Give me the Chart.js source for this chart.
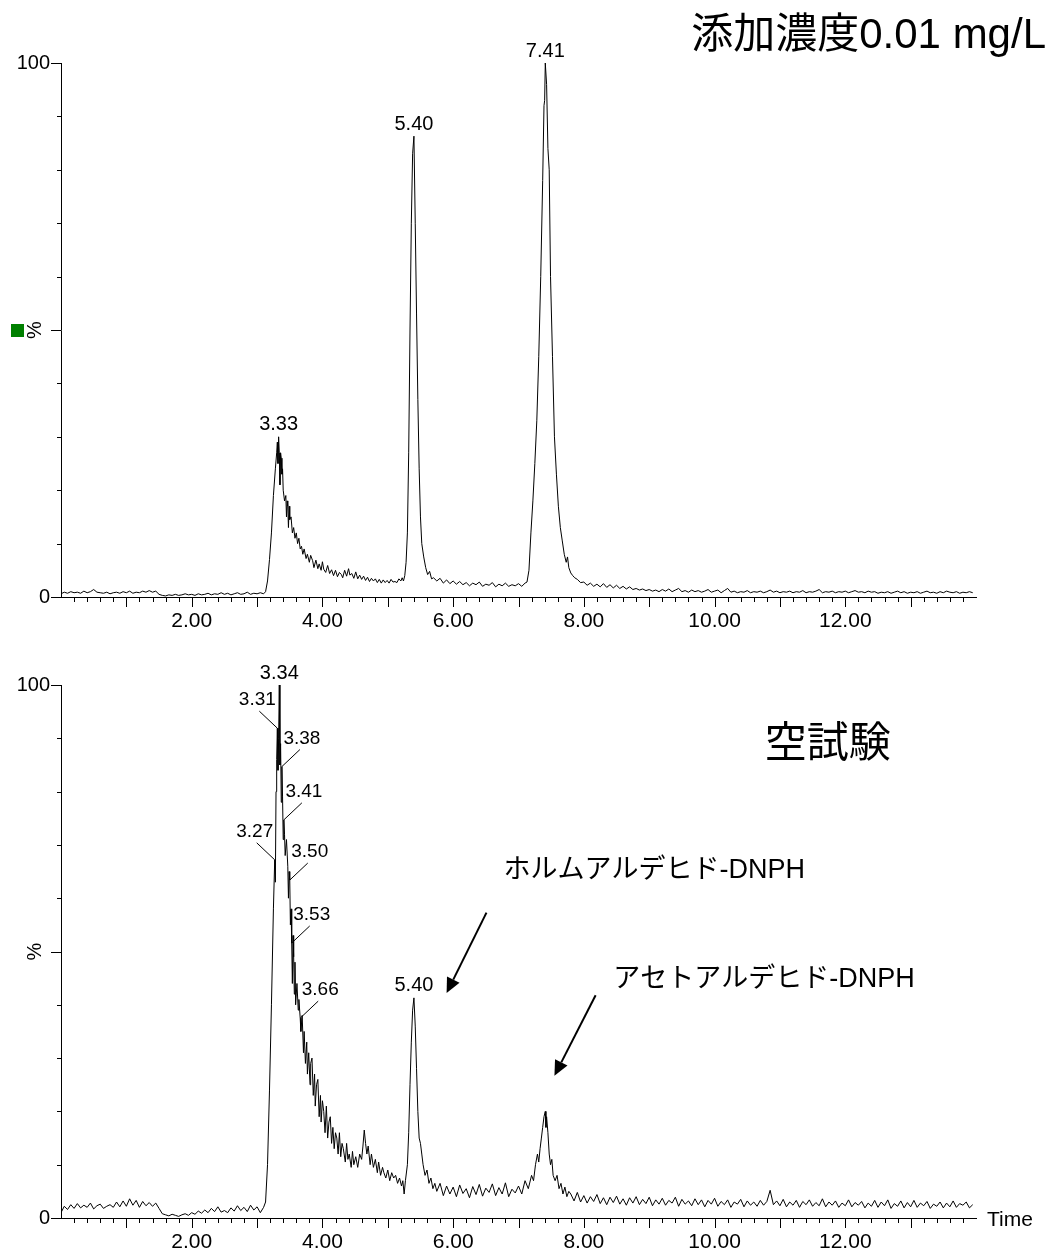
<!DOCTYPE html>
<html>
<head>
<meta charset="utf-8">
<script src="https://cdn.jsdelivr.net/npm/chart.js@4.4.1/dist/chart.umd.min.js"></script>
<style>
  body { margin: 0; background: #fff; width: 1052px; height: 1255px; position: relative; overflow: hidden; }
  canvas { position: absolute; left: 0; }
  #spiked { top: 0; }
  #blank { top: 640px; }
</style>
</head>
<body>
<canvas id="spiked" width="1052" height="640"></canvas>
<canvas id="blank" width="1052" height="615"></canvas>
<script>
// chromatogram traces, [time (min), intensity %]
const spikedTrace = [
  [0.00,0.6],[0.05,0.9],[0.10,0.7],[0.15,1.0],[0.20,0.8],[0.25,0.9],[0.30,0.7],[0.35,1.1],[0.40,0.8],[0.45,1.0],
  [0.50,1.4],[0.55,0.9],[0.60,0.8],[0.65,0.7],[0.70,0.9],[0.75,0.6],[0.80,0.8],[0.85,0.9],[0.90,0.7],[0.95,1.0],
  [1.00,0.8],[1.05,1.1],[1.10,0.7],[1.15,0.9],[1.20,0.8],[1.25,1.1],[1.30,0.9],[1.35,1.2],[1.40,0.9],[1.45,1.1],
  [1.50,0.5],[1.55,0.3],[1.60,0.2],[1.65,0.4],[1.70,0.3],[1.75,0.5],[1.80,0.3],[1.85,0.4],[1.90,0.6],[1.95,0.4],
  [2.00,0.5],[2.05,0.3],[2.10,0.6],[2.15,0.4],[2.20,0.5],[2.25,0.7],[2.30,0.4],[2.35,0.6],[2.40,0.5],[2.45,0.8],
  [2.50,0.5],[2.55,0.7],[2.60,0.4],[2.65,0.6],[2.70,0.8],[2.75,0.5],[2.80,0.6],[2.85,0.9],[2.90,0.5],[2.95,0.7],
  [3.00,0.6],[3.05,0.8],[3.10,0.6],
  [3.13,1.0],[3.16,3],[3.19,7],[3.22,12],[3.25,19],[3.28,24],[3.30,27],[3.31,29],[3.32,25],[3.33,30],[3.34,27],
  [3.35,21],[3.36,27],[3.37,26],[3.38,23],[3.39,24],[3.40,20],[3.42,18],[3.44,19],[3.45,15],[3.46,18],[3.47,17],
  [3.48,13],[3.49,17],[3.50,14.5],[3.52,15],[3.54,12],[3.56,13],[3.58,11],[3.60,12],[3.62,10],[3.64,11],[3.66,9],
  [3.68,9.5],[3.70,8],[3.72,9],[3.75,7.2],[3.77,8],[3.80,6.5],[3.82,7.8],[3.85,6.8],[3.87,5.5],[3.90,6.9],[3.93,5.3],
  [3.95,6.2],[3.98,5.0],[4.00,6.6],[4.02,5.2],[4.05,4.6],[4.08,5.9],[4.11,4.4],[4.14,5.1],[4.17,4.0],[4.20,5.0],
  [4.23,3.8],[4.26,4.6],[4.29,4.2],[4.31,3.6],[4.34,5.0],[4.37,3.9],[4.40,5.3],[4.42,4.1],[4.45,4.4],[4.48,3.5],
  [4.51,4.7],[4.54,3.4],[4.57,4.1],[4.60,3.3],[4.63,3.9],[4.66,3.1],[4.69,3.7],[4.72,2.9],[4.75,3.5],[4.78,3.0],
  [4.81,3.4],[4.84,2.7],[4.87,3.3],[4.90,2.6],[4.93,3.2],[4.96,2.7],[4.99,3.1],[5.02,2.6],[5.05,3.3],[5.08,2.8],
  [5.11,2.9],[5.14,2.7],[5.17,3.4],[5.20,3.0],[5.22,3.6],
  [5.24,3.0],[5.26,4],[5.28,6.5],[5.30,12],[5.32,27],[5.34,50],[5.36,70],[5.38,83],[5.40,86.3],[5.42,70],
  [5.44,53],[5.46,37],[5.48,24],[5.50,15],[5.52,10],[5.55,7.5],[5.58,5.5],[5.61,4.2],[5.64,4.8],[5.67,3.4],
  [5.70,3.6],[5.75,3.0],[5.80,3.5],[5.85,2.6],[5.90,3.2],[5.95,2.5],[6.00,3.0],[6.05,2.4],[6.10,2.9],[6.15,2.3],
  [6.20,2.7],[6.25,2.1],[6.30,2.6],[6.35,2.3],[6.40,2.8],[6.45,2.0],[6.50,2.4],[6.55,2.2],[6.60,2.7],[6.65,1.9],
  [6.70,2.4],[6.75,2.1],[6.80,2.6],[6.85,2.0],[6.90,2.3],[6.95,2.1],[7.00,2.5],[7.05,2.0],[7.10,2.6],
  [7.13,2.8],[7.16,5],[7.19,12],[7.22,18],[7.25,25],[7.28,33],[7.31,45],[7.34,60],[7.37,78],[7.39,92],
  [7.40,93],[7.41,100],[7.43,96],[7.45,84],[7.47,80],[7.49,60],[7.52,45],[7.55,30],[7.58,23],[7.61,17],
  [7.64,13],[7.67,10.5],[7.70,8],[7.73,6.5],[7.75,7.5],[7.77,5.5],[7.80,4.5],[7.83,4.0],[7.86,3.6],[7.90,3.3],
  [7.95,2.7],
  [8.00,2.8],[8.05,2.2],[8.10,2.6],[8.15,2.0],[8.20,2.4],[8.25,1.9],[8.30,2.5],[8.35,1.8],[8.40,2.3],[8.45,1.7],
  [8.50,2.2],[8.55,1.6],[8.60,2.0],[8.65,1.5],[8.70,1.9],[8.75,1.4],[8.80,1.6],[8.85,1.3],[8.90,1.5],[8.95,1.2],
  [9.00,1.4],[9.05,1.1],[9.10,1.3],[9.15,1.0],[9.20,1.4],[9.25,1.1],[9.30,1.5],[9.35,1.0],[9.40,1.3],[9.45,1.6],
  [9.50,1.0],[9.55,1.2],[9.60,0.9],[9.65,1.3],[9.70,1.0],[9.75,1.2],[9.80,0.9],[9.85,1.1],[9.90,1.4],[9.95,0.9],
  [10.00,1.1],[10.05,1.3],[10.10,0.8],[10.15,1.2],[10.20,1.6],[10.25,0.9],[10.30,1.1],[10.35,0.8],[10.40,1.0],[10.45,0.9],
  [10.50,1.2],[10.55,0.8],[10.60,1.0],[10.65,0.9],[10.70,1.1],[10.75,0.8],[10.80,1.0],[10.85,1.3],[10.90,0.9],[10.95,1.1],
  [11.00,0.8],[11.05,1.0],[11.10,0.9],[11.15,1.1],[11.20,0.8],[11.25,1.0],[11.30,0.9],[11.35,1.2],[11.40,0.8],[11.45,1.0],
  [11.50,0.9],[11.55,1.1],[11.60,1.4],[11.65,0.8],[11.70,1.0],[11.75,0.9],[11.80,1.1],[11.85,0.8],[11.90,1.0],[11.95,0.9],
  [12.00,1.1],[12.05,0.8],[12.10,1.0],[12.15,1.2],[12.20,0.9],[12.25,1.0],[12.30,0.8],[12.35,1.1],[12.40,0.9],[12.45,1.0],
  [12.50,0.7],[12.55,0.9],[12.60,0.8],[12.65,1.0],[12.70,0.7],[12.75,0.9],[12.80,1.1],[12.85,0.8],[12.90,1.0],[12.95,0.7],
  [13.00,0.9],[13.05,0.8],[13.10,1.0],[13.15,0.7],[13.20,0.9],[13.25,1.1],[13.30,0.8],[13.35,0.9],[13.40,0.7],[13.45,1.0],
  [13.50,0.8],[13.55,1.1],[13.60,0.9],[13.65,0.8],[13.70,1.0],[13.75,0.7],[13.80,0.9],[13.85,0.8],[13.90,1.0],[13.95,0.8]
];

const blankTrace = [
  [0.00,1.0],[0.05,2.2],[0.10,1.6],[0.15,2.5],[0.20,1.8],[0.25,2.7],[0.30,1.9],[0.35,2.4],[0.40,2.0],[0.45,2.8],
  [0.50,1.7],[0.55,2.3],[0.60,2.6],[0.65,1.8],[0.70,2.2],[0.75,2.5],[0.80,2.0],[0.85,3.0],[0.90,2.1],[0.95,3.2],
  [1.00,2.2],[1.05,3.6],[1.10,2.4],[1.15,3.3],[1.20,2.0],[1.25,3.1],[1.30,2.3],[1.35,2.9],[1.40,2.2],[1.45,2.8],
  [1.50,1.8],[1.55,0.8],[1.60,0.6],[1.65,0.4],[1.70,0.7],[1.75,0.5],[1.80,0.3],[1.85,0.6],[1.90,0.8],[1.95,0.5],
  [2.00,1.0],[2.05,0.7],[2.10,1.3],[2.15,0.9],[2.20,1.5],[2.25,1.0],[2.30,1.8],[2.35,1.2],[2.40,2.1],[2.45,1.1],
  [2.50,1.4],[2.55,1.0],[2.60,1.9],[2.65,1.3],[2.70,2.3],[2.75,1.4],[2.80,2.0],[2.85,1.2],[2.90,2.4],[2.95,1.5],
  [3.00,2.1],[3.05,1.0],[3.10,2.0],
  [3.13,3],[3.16,10],[3.19,24],[3.22,40],[3.25,58],[3.27,67.2],[3.28,63],[3.29,80],[3.30,86],[3.31,91.9],
  [3.32,84],[3.33,90],[3.34,100],[3.35,85],[3.36,89],[3.37,78],[3.38,84.7],[3.39,79],[3.40,71],[3.41,74.7],
  [3.42,72],[3.43,68],[3.45,71],[3.47,66],[3.48,60],[3.49,65],[3.50,63.4],[3.51,55],[3.52,58],[3.53,51.6],
  [3.54,44],[3.55,53],[3.56,49],[3.57,42],[3.58,48],[3.59,40],[3.61,44],[3.63,39],[3.64,41],[3.66,37.5],
  [3.67,35],[3.69,38],[3.71,31],[3.72,35],[3.74,29],[3.76,33],[3.77,27],[3.79,31],[3.81,25],[3.82,29],
  [3.84,30],[3.86,23],[3.88,27],[3.89,21],[3.91,25],[3.93,26],[3.95,19],[3.97,23],[3.98,18],[4.00,22],
  [4.02,20],[4.04,16],[4.06,21],[4.08,15],[4.10,18],[4.12,19],[4.14,14],[4.16,17],[4.18,13],[4.20,16],
  [4.22,15],[4.24,12],[4.26,16],[4.28,11.5],[4.30,14],[4.32,13],[4.35,10.5],[4.37,14],[4.39,11],[4.41,12],
  [4.44,9.5],[4.46,12.5],[4.48,10],[4.51,11.5],[4.54,9.5],[4.57,12],[4.60,11],[4.62,13.5],[4.64,16.5],[4.66,14],
  [4.68,12],[4.70,13.5],[4.73,10],[4.75,12],[4.78,9.5],[4.81,11],[4.84,8.5],[4.86,10.5],[4.89,8],[4.92,9.5],
  [4.94,8.5],[4.97,7.5],[5.00,9],[5.03,7],[5.06,8.5],[5.09,7.5],[5.12,8],[5.15,6.5],[5.18,7.5],[5.21,6],
  [5.23,7],[5.25,4.5],
  [5.27,7],[5.30,10],[5.32,16],[5.34,25],[5.36,33],[5.38,39],[5.40,41.3],[5.42,36],[5.44,28],[5.46,20],
  [5.48,15],[5.50,14],[5.52,12],[5.54,10],[5.57,8],[5.60,9],[5.63,6.5],[5.66,7.5],[5.69,5.5],[5.72,6.5],
  [5.75,5.0],[5.80,6.5],[5.85,4.2],[5.90,6.0],[5.95,4.5],[6.00,5.8],[6.05,4.0],[6.10,6.2],[6.15,4.6],[6.20,5.5],
  [6.25,3.8],[6.30,5.9],[6.35,4.4],[6.40,6.3],[6.45,4.1],[6.50,5.6],[6.55,4.8],[6.60,6.4],[6.65,4.2],[6.70,5.7],
  [6.75,4.5],[6.80,6.6],[6.85,4.0],[6.90,5.4],[6.95,4.7],[7.00,6.0],[7.05,4.5],[7.10,7.0],[7.15,5.5],[7.20,8.0],
  [7.23,7],[7.26,10],[7.29,12],[7.31,10.5],[7.33,13],[7.35,15],[7.37,17],[7.39,19],[7.41,20],[7.42,17],
  [7.43,19],[7.45,16],[7.47,12],[7.49,10],[7.51,11],[7.53,8],[7.56,7],[7.59,8],[7.62,5.5],[7.65,6.5],
  [7.68,4.5],[7.71,5.8],[7.74,4.0],[7.77,5.0],
  [7.80,4.5],[7.85,3.2],[7.90,4.8],[7.95,3.0],[8.00,4.2],[8.05,2.8],[8.10,4.0],[8.15,3.1],[8.20,4.4],[8.25,2.7],
  [8.30,3.8],[8.35,2.5],[8.40,3.9],[8.45,2.9],[8.50,4.1],[8.55,2.6],[8.60,3.6],[8.65,2.4],[8.70,3.8],[8.75,2.8],
  [8.80,4.0],[8.85,2.5],[8.90,3.5],[8.95,2.7],[9.00,3.9],[9.05,2.3],[9.10,3.4],[9.15,2.6],[9.20,3.7],[9.25,2.4],
  [9.30,3.3],[9.35,2.8],[9.40,3.9],[9.45,2.2],[9.50,3.5],[9.55,2.6],[9.60,3.2],[9.65,2.3],[9.70,3.6],[9.75,2.5],
  [9.80,3.4],[9.85,2.1],[9.90,3.3],[9.95,2.6],[10.00,3.7],[10.05,2.2],[10.10,3.1],[10.15,2.5],[10.20,3.4],[10.25,2.0],
  [10.30,3.0],[10.35,2.6],[10.40,3.5],[10.45,2.1],[10.50,3.2],[10.55,2.4],[10.60,3.0],[10.65,2.2],[10.70,3.3],[10.75,2.4],
  [10.80,3.1],[10.85,5.2],[10.90,2.5],[10.95,3.2],[11.00,2.3],[11.05,3.5],[11.10,2.1],[11.15,3.0],[11.20,2.4],[11.25,3.3],
  [11.30,2.0],[11.35,3.1],[11.40,2.5],[11.45,3.4],[11.50,2.2],[11.55,2.9],[11.60,2.3],[11.65,3.6],[11.70,2.1],[11.75,3.0],
  [11.80,2.4],[11.85,3.2],[11.90,2.0],[11.95,2.8],[12.00,2.3],[12.05,3.4],[12.10,2.1],[12.15,2.9],[12.20,2.4],[12.25,3.1],
  [12.30,1.9],[12.35,2.8],[12.40,2.2],[12.45,3.3],[12.50,2.0],[12.55,3.0],[12.60,2.3],[12.65,3.4],[12.70,1.8],[12.75,2.7],
  [12.80,2.2],[12.85,3.2],[12.90,1.9],[12.95,2.9],[13.00,2.1],[13.05,3.3],[13.10,2.0],[13.15,2.8],[13.20,2.3],[13.25,3.1],
  [13.30,1.8],[13.35,2.6],[13.40,2.2],[13.45,3.0],[13.50,1.9],[13.55,2.8],[13.60,2.1],[13.65,3.2],[13.70,2.0],[13.75,2.7],
  [13.80,2.4],[13.85,3.0],[13.90,1.9],[13.95,2.5]
];

// axis labels
const xLabelTimes = [2, 4, 6, 8, 10, 12];
const yLabelValues = [0, 100];

// peak labels: text, time, intensity
const spikedPeaks = [["3.33", 3.33, 30], ["5.40", 5.40, 86.3], ["7.41", 7.41, 100]];
const blankPeaks = [["3.34", 3.34, 100], ["5.40", 5.40, 41.3]];
// labels with leader lines: text, time, intensity, side (-1 left, 1 right)
const blankLeaders = [
  ["3.31", 3.31, 91.9, -1], ["3.38", 3.38, 84.7, 1], ["3.41", 3.41, 74.7, 1], ["3.27", 3.27, 67.2, -1],
  ["3.50", 3.50, 63.4, 1], ["3.53", 3.53, 51.6, 1], ["3.66", 3.66, 37.5, 1]
];
// arrows: [from time, from %, to time, to %]
const blankArrows = [[6.51, 57.3, 5.90, 42.2], [8.18, 41.8, 7.55, 26.7]];
const blankNotes = [["ホルムアルデヒド-DNPH", 6.77, 65.1], ["アセトアルデヒド-DNPH", 8.45, 44.8]];

const FONT = '"Liberation Sans", Arial, "Noto Sans CJK JP", sans-serif';

function drawAxisTicks(chart) {
  const { ctx, chartArea: a, scales: { x, y } } = chart;
  ctx.save();
  ctx.strokeStyle = "#000";
  ctx.lineWidth = 1;
  ctx.beginPath();
  for (let i = 1; i < 70; i++) {
    const px = Math.round(x.getPixelForValue(i / 5)) + 0.5;
    const len = i % 5 === 0 ? 10 : 5;
    ctx.moveTo(px, a.bottom);
    ctx.lineTo(px, a.bottom + len);
  }
  for (let i = 0; i <= 10; i++) {
    const py = Math.round(y.getPixelForValue(i * 10)) + 0.5;
    const len = i % 5 === 0 ? 10 : 4;
    ctx.moveTo(a.left, py);
    ctx.lineTo(a.left - len, py);
  }
  ctx.stroke();

  // "%" axis title
  ctx.fillStyle = "#000";
  ctx.font = "20px " + FONT;
  ctx.textAlign = "center";
  ctx.textBaseline = "middle";
  ctx.translate(35, y.getPixelForValue(50));
  ctx.rotate(-Math.PI / 2);
  ctx.fillText("%", 0, 0);
  ctx.restore();
}

function drawPeakLabels(chart, peaks) {
  const { ctx, scales: { x, y } } = chart;
  ctx.save();
  ctx.fillStyle = "#000";
  ctx.font = "20px " + FONT;
  ctx.textAlign = "center";
  ctx.textBaseline = "middle";
  peaks.forEach(([txt, t, v]) => {
    ctx.fillText(txt, x.getPixelForValue(t), y.getPixelForValue(v) - 12);
  });
  ctx.restore();
}

function drawArrow(ctx, x1, y1, x2, y2) {
  const ang = Math.atan2(y2 - y1, x2 - x1);
  const hl = 15, hw = 7;
  const bx = x2 - hl * Math.cos(ang), by = y2 - hl * Math.sin(ang);
  ctx.beginPath();
  ctx.moveTo(x1, y1);
  ctx.lineTo(bx, by);
  ctx.stroke();
  ctx.beginPath();
  ctx.moveTo(x2, y2);
  ctx.lineTo(bx + hw * Math.sin(ang), by - hw * Math.cos(ang));
  ctx.lineTo(bx - hw * Math.sin(ang), by + hw * Math.cos(ang));
  ctx.closePath();
  ctx.fill();
}

const spikedDecor = {
  id: "spikedDecor",
  afterDraw(chart) {
    const { ctx, scales: { y } } = chart;
    drawAxisTicks(chart);
    drawPeakLabels(chart, spikedPeaks);
    ctx.save();
    ctx.fillStyle = "#008000";
    ctx.fillRect(11, Math.round(y.getPixelForValue(50)) - 6, 13, 13);
    ctx.fillStyle = "#000";
    ctx.font = "42px " + FONT;
    ctx.textAlign = "right";
    ctx.textBaseline = "middle";
    ctx.fillText("添加濃度0.01 mg/L", chart.width - 6, 36);
    ctx.restore();
  }
};

const blankDecor = {
  id: "blankDecor",
  afterDraw(chart) {
    const { ctx, chartArea: a, scales: { x, y } } = chart;
    drawAxisTicks(chart);
    drawPeakLabels(chart, blankPeaks);
    ctx.save();
    ctx.strokeStyle = "#000";
    ctx.fillStyle = "#000";
    ctx.lineWidth = 1;
    ctx.font = "19px " + FONT;
    ctx.textAlign = "center";
    ctx.textBaseline = "middle";
    blankLeaders.forEach(([txt, t, v, side]) => {
      const px = x.getPixelForValue(t), py = y.getPixelForValue(v);
      ctx.beginPath();
      ctx.moveTo(px + side * 18, py - 17);
      ctx.lineTo(px, py);
      ctx.stroke();
      ctx.fillText(txt, px + side * 20, py - 28);
    });

    ctx.lineWidth = 2;
    blankArrows.forEach(([t1, v1, t2, v2]) => {
      drawArrow(ctx, x.getPixelForValue(t1), y.getPixelForValue(v1),
        x.getPixelForValue(t2), y.getPixelForValue(v2));
    });

    ctx.font = "27px " + FONT;
    ctx.textAlign = "left";
    blankNotes.forEach(([txt, t, v]) => {
      ctx.fillText(txt, x.getPixelForValue(t), y.getPixelForValue(v));
    });

    ctx.font = "42px " + FONT;
    ctx.textAlign = "center";
    ctx.fillText("空試験", x.getPixelForValue(11.73), y.getPixelForValue(88.7));

    ctx.font = "21px " + FONT;
    ctx.textAlign = "left";
    ctx.fillText("Time", a.right + 11, a.bottom + 2);
    ctx.restore();
  }
};

function makeOptions(padTop, xHeight) {
  return {
    responsive: false,
    animation: false,
    layout: { padding: { top: padTop, left: 0, right: 76, bottom: 0 } },
    plugins: { legend: { display: false }, tooltip: { enabled: false } },
    scales: {
      x: {
        type: "linear",
        min: 0,
        max: 14,
        afterFit: s => { s.height = xHeight; },
        grid: { display: false, drawTicks: false },
        border: { display: true, color: "#000", width: 1 },
        ticks: {
          stepSize: 1,
          autoSkip: false,
          maxRotation: 0,
          padding: 12,
          color: "#000",
          font: { family: FONT, size: 21 },
          callback: v => xLabelTimes.includes(v) ? v.toFixed(2) : ""
        }
      },
      y: {
        min: 0,
        max: 100,
        afterFit: s => { s.width = 61; },
        grid: { display: false, drawTicks: false },
        border: { display: true, color: "#000", width: 1 },
        ticks: {
          stepSize: 10,
          autoSkip: false,
          padding: 11,
          color: "#000",
          font: { family: FONT, size: 20 },
          callback: v => yLabelValues.includes(v) ? String(v) : ""
        }
      }
    }
  };
}

function traceDataset(trace) {
  return {
    data: trace.map(([t, v]) => ({ x: t, y: v })),
    borderColor: "#000",
    borderWidth: 1,
    pointRadius: 0,
    tension: 0,
    fill: false
  };
}

new Chart(document.getElementById("spiked"), {
  type: "line",
  data: { datasets: [traceDataset(spikedTrace)] },
  options: makeOptions(63, 43),
  plugins: [spikedDecor]
});

new Chart(document.getElementById("blank"), {
  type: "line",
  data: { datasets: [traceDataset(blankTrace)] },
  options: makeOptions(45, 37),
  plugins: [blankDecor]
});
</script>
</body>
</html>
